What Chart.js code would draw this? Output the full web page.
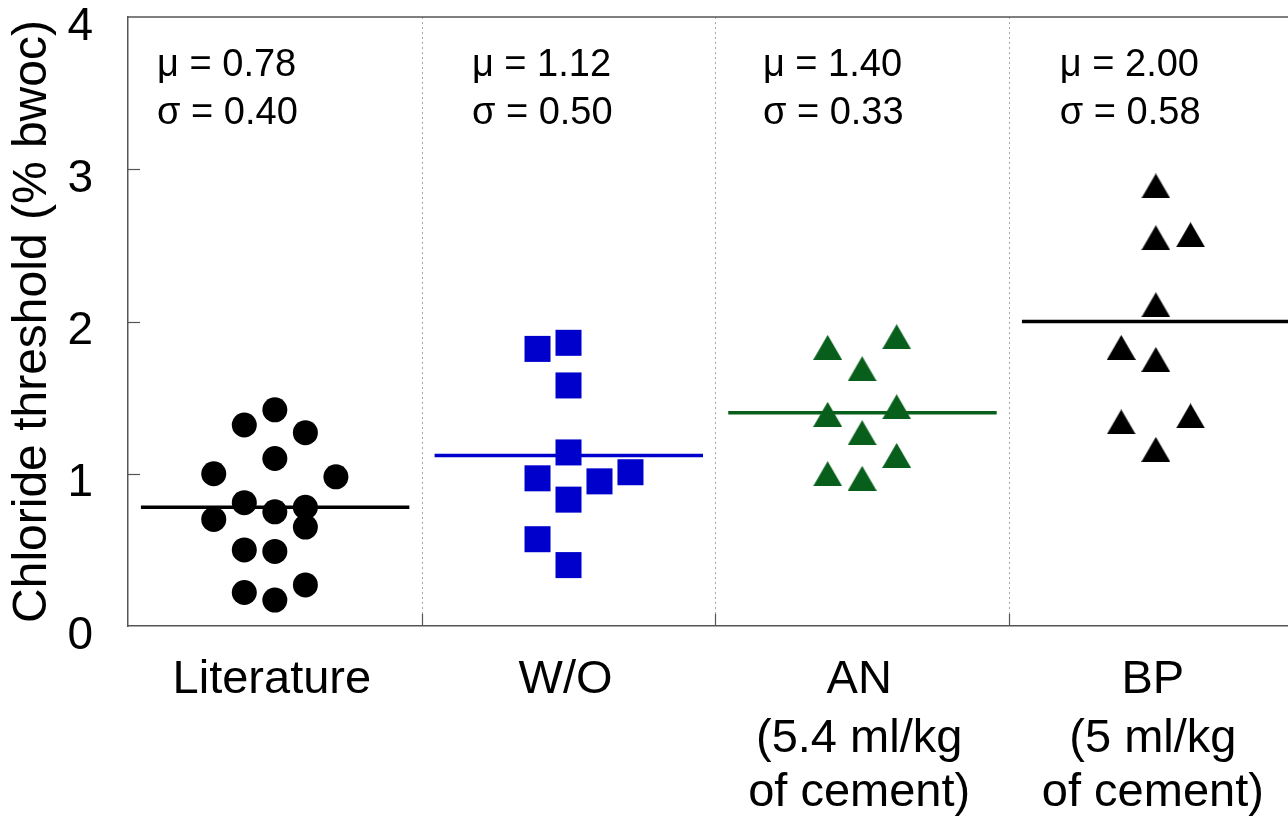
<!DOCTYPE html>
<html>
<head>
<meta charset="utf-8">
<script src="https://cdn.jsdelivr.net/npm/chart.js@4/dist/chart.umd.min.js"></script>
<style>
  html, body { margin: 0; padding: 0; background: #fff; overflow: hidden; }
  canvas { display: block; }
</style>
</head>
<body>
<canvas id="chart" width="1288" height="821"></canvas>
<script>
// ---- data -------------------------------------------------------------
const categories = [
  ['Literature'],
  ['W/O'],
  ['AN', '(5.4 ml/kg', 'of cement)'],
  ['BP', '(5 ml/kg', 'of cement)']
];

// chloride threshold values (% bwoc); "slots" are the column offsets of each marker inside its group
const literatureValues = [1.42, 1.32, 1.27, 1.10, 1.00, 0.98, 0.81, 0.75, 0.78, 0.70, 0.65, 0.50, 0.49, 0.27, 0.22, 0.17];
const literatureSlots  = [0, -1, 1, 0, -2, 2, -1, 0, 1, -2, 1, -1, 0, 1, -1, 0];

const woValues = [1.82, 1.86, 1.58, 1.14, 0.97, 0.95, 1.01, 0.83, 0.57, 0.40];
const woSlots  = [-1, 0, 0, 0, -1, 1, 2, 0, -1, 0];

const anValues = [1.83, 1.90, 1.69, 1.39, 1.44, 1.27, 1.12, 1.00, 0.97];
const anSlots  = [-1, 1, 0, -1, 1, 0, 1, -1, 0];

const bpValues = [2.89, 2.55, 2.57, 2.11, 1.83, 1.75, 1.34, 1.38, 1.16];
const bpSlots  = [0, 0, 1, 0, -1, 0, -1, 1, 0];

const meanValues = [0.78, 1.12, 1.40, 2.00];
const sdValues   = [0.40, 0.50, 0.33, 0.58];

const yTicks = [0, 1, 2, 3, 4];

// ---- styling ----------------------------------------------------------
const FONT = "'Liberation Sans', Arial, Helvetica, sans-serif";
const AXIS_COLOR = '#555555';
const BLUE = '#0000cc';
const GREEN = '#075f1b';
const slotSpacing = [0.104, 0.1055, 0.1175, 0.118];
const statLabelOffset = [0.099, 0.171, 0.162, 0.173];

function groupPoints(groupIndex, values, slots) {
  return values.map((v, i) => ({
    x: groupIndex + 0.5 + slots[i] * slotSpacing[groupIndex],
    y: v
  }));
}

function meanSegment(groupIndex) {
  return [
    { x: groupIndex + 0.044, y: meanValues[groupIndex] },
    { x: groupIndex + 0.958, y: meanValues[groupIndex] }
  ];
}

// filled triangle marker, centred on its bounding box
function triangleMarker(color) {
  const w = 29, h = 25;
  const c = document.createElement('canvas');
  c.width = w; c.height = h;
  const g = c.getContext('2d');
  g.fillStyle = color;
  g.beginPath();
  g.moveTo(w / 2, 0);
  g.lineTo(w, h);
  g.lineTo(0, h);
  g.closePath();
  g.fill();
  return c;
}

const framePlugin = {
  id: 'frame',
  beforeDraw(chart) {
    const ctx = chart.ctx;
    ctx.save();
    ctx.fillStyle = '#ffffff';
    ctx.fillRect(0, 0, chart.width, chart.height);
    ctx.restore();
  },
  beforeDatasetsDraw(chart) {
    const { ctx, chartArea: a, scales: { x, y } } = chart;
    ctx.save();
    // dotted group dividers
    ctx.strokeStyle = '#a8a8a8';
    ctx.lineWidth = 1;
    ctx.setLineDash([2, 3]);
    for (let i = 1; i < categories.length; i++) {
      const px = Math.round(x.getPixelForValue(i)) + 0.5;
      ctx.beginPath();
      ctx.moveTo(px, a.top);
      ctx.lineTo(px, a.bottom);
      ctx.stroke();
    }
    ctx.setLineDash([]);
    // top frame line
    ctx.strokeStyle = AXIS_COLOR;
    ctx.lineWidth = 1.5;
    ctx.beginPath();
    ctx.moveTo(a.left, a.top);
    ctx.lineTo(a.right, a.top);
    ctx.stroke();
    // inward tick marks
    ctx.lineWidth = 1.2;
    for (let i = 1; i < categories.length; i++) {
      const px = Math.round(x.getPixelForValue(i)) + 0.5;
      ctx.beginPath();
      ctx.moveTo(px, a.bottom);
      ctx.lineTo(px, a.bottom - 12);
      ctx.stroke();
    }
    yTicks.slice(1, -1).forEach(v => {
      const py = Math.round(y.getPixelForValue(v)) + 0.5;
      ctx.beginPath();
      ctx.moveTo(a.left, py);
      ctx.lineTo(a.left + 12, py);
      ctx.stroke();
    });
    ctx.restore();
  },
  afterDraw(chart) {
    const { ctx, chartArea: a, scales: { x } } = chart;
    ctx.save();
    ctx.fillStyle = '#000';
    // group statistics
    ctx.font = `38px ${FONT}`;
    ctx.textAlign = 'left';
    ctx.textBaseline = 'alphabetic';
    for (let g = 0; g < categories.length; g++) {
      const px = x.getPixelForValue(g + statLabelOffset[g]);
      ctx.fillText('\u03bc = ' + meanValues[g].toFixed(2), px, a.top + 59);
      ctx.fillText('\u03c3 = ' + sdValues[g].toFixed(2), px, a.top + 107);
    }
    // category names under the axis
    ctx.font = `47px ${FONT}`;
    ctx.textAlign = 'center';
    const rowBaselines = [67, 126, 180];
    categories.forEach((lines, g) => {
      const cx = x.getPixelForValue(g + 0.5) - 3;
      lines.forEach((t, r) => ctx.fillText(t, cx, a.bottom + rowBaselines[r]));
    });
    ctx.restore();
  }
};

const markerBase = { showLine: false, borderWidth: 0, pointBorderWidth: 0, pointHoverRadius: 0 };

new Chart(document.getElementById('chart'), {
  type: 'scatter',
  data: {
    datasets: [
      { label: 'mean Literature', data: meanSegment(0), showLine: true, borderColor: '#000', borderWidth: 3.5, pointRadius: 0 },
      { label: 'mean W/O', data: meanSegment(1), showLine: true, borderColor: BLUE, borderWidth: 3.5, pointRadius: 0 },
      { label: 'mean AN', data: meanSegment(2), showLine: true, borderColor: GREEN, borderWidth: 3.5, pointRadius: 0 },
      { label: 'mean BP', data: meanSegment(3), showLine: true, borderColor: '#000', borderWidth: 3.5, pointRadius: 0 },
      Object.assign({ label: 'Literature', data: groupPoints(0, literatureValues, literatureSlots),
        pointStyle: 'circle', pointRadius: 12.5, backgroundColor: '#000' }, markerBase),
      Object.assign({ label: 'W/O', data: groupPoints(1, woValues, woSlots),
        pointStyle: 'rect', pointRadius: 18.4, backgroundColor: BLUE }, markerBase),
      Object.assign({ label: 'AN', data: groupPoints(2, anValues, anSlots),
        pointStyle: triangleMarker(GREEN), pointRadius: 15, backgroundColor: GREEN }, markerBase),
      Object.assign({ label: 'BP', data: groupPoints(3, bpValues, bpSlots),
        pointStyle: triangleMarker('#000'), pointRadius: 15, backgroundColor: '#000' }, markerBase)
    ]
  },
  options: {
    responsive: false,
    animation: false,
    events: [],
    layout: { autoPadding: false, padding: { top: 17, right: 0, bottom: 0, left: 0 } },
    plugins: { legend: { display: false }, tooltip: { enabled: false } },
    scales: {
      x: {
        type: 'linear',
        min: 0,
        max: 3.95,
        ticks: { display: false },
        grid: { display: false },
        border: { display: true, color: AXIS_COLOR, width: 1.5 },
        afterFit(scale) { scale.height = 195; scale.paddingLeft = 0; scale.paddingRight = 0; }
      },
      y: {
        type: 'linear',
        min: 0,
        max: 4,
        afterBuildTicks(scale) { scale.ticks = yTicks.map(v => ({ value: v })); },
        ticks: {
          color: '#000',
          font: { family: FONT, size: 46 },
          padding: 27,
          labelOffset: 10,
          callback: v => String(v)
        },
        grid: { display: false },
        border: { display: true, color: AXIS_COLOR, width: 1.5 },
        title: {
          display: true,
          text: 'Chloride threshold (% bwoc)',
          color: '#000',
          font: { family: FONT, size: 48 },
          padding: { top: 4, bottom: 0 }
        },
        afterFit(scale) { scale.width = 128; scale.paddingTop = 0; scale.paddingBottom = 0; }
      }
    }
  },
  plugins: [framePlugin]
});
</script>
</body>
</html>
